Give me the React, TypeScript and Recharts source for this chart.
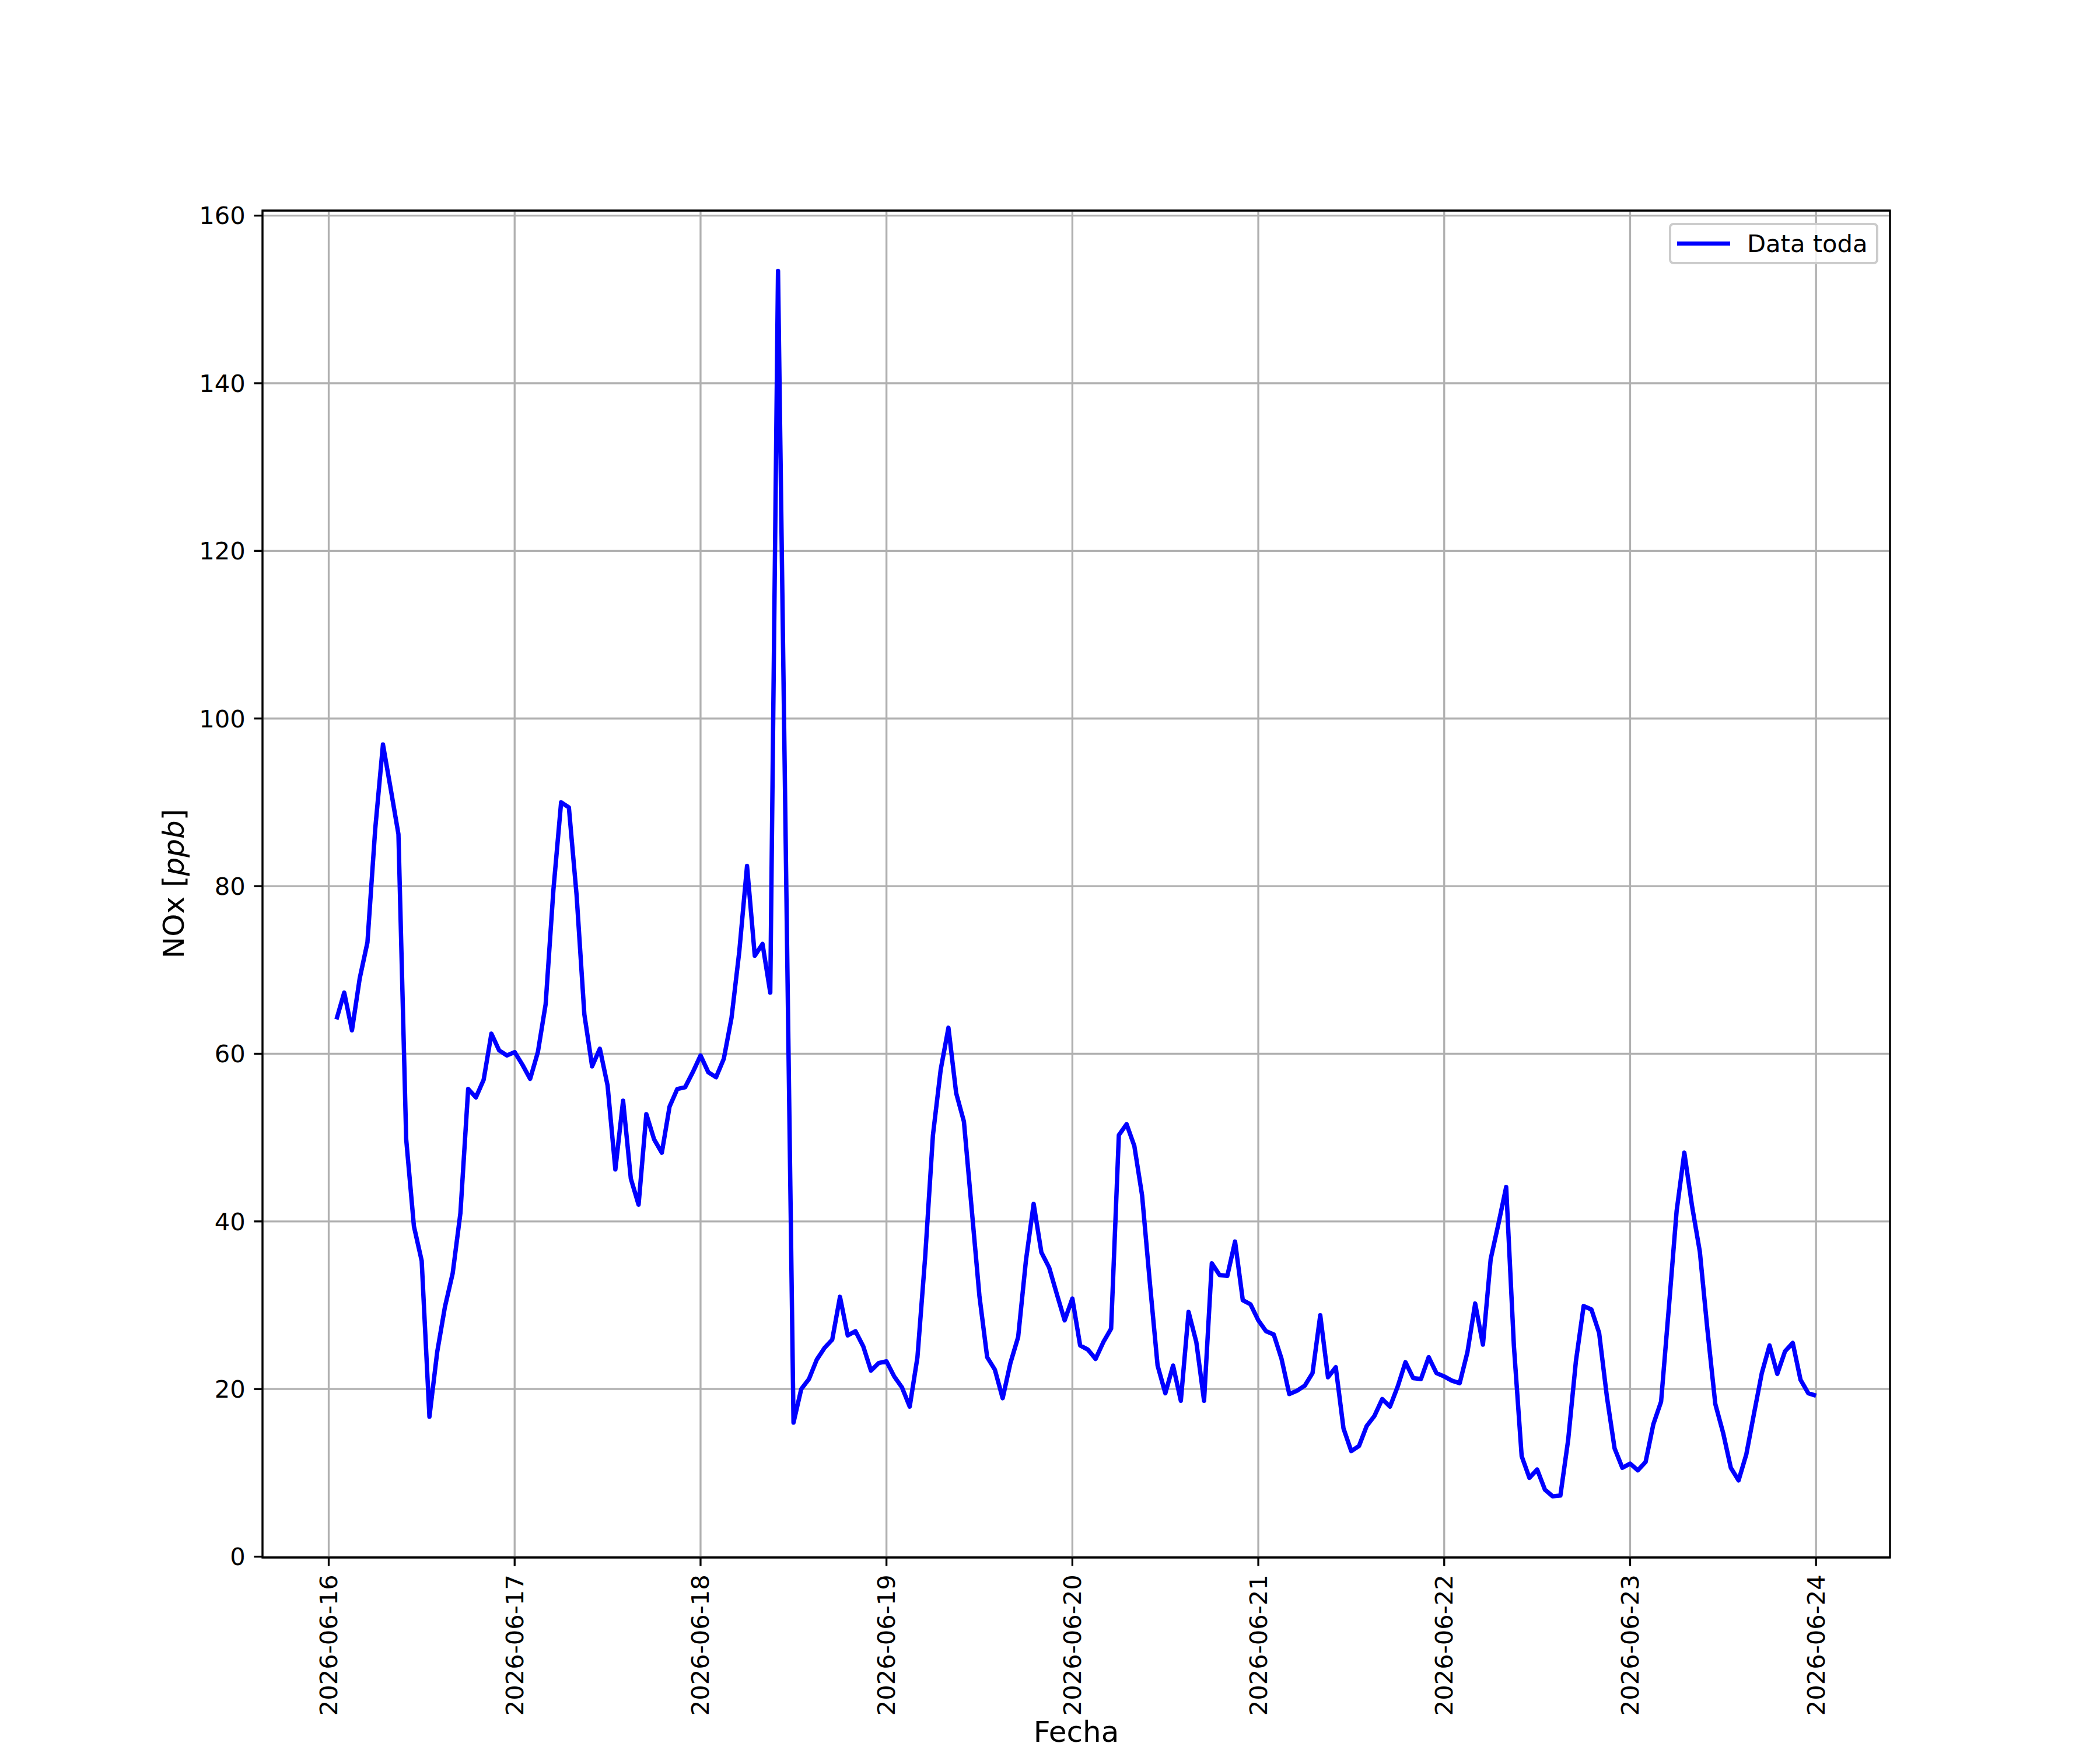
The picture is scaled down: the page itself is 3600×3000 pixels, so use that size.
import {
  CartesianGrid,
  Legend,
  Line,
  LineChart,
  ReferenceArea,
  XAxis,
  YAxis,
} from "recharts";

// Serie horaria de NOx [ppb], una lista por día (01:00 … 24:00)
const fechas = [
  "2026-06-16",
  "2026-06-17",
  "2026-06-18",
  "2026-06-19",
  "2026-06-20",
  "2026-06-21",
  "2026-06-22",
  "2026-06-23",
  "2026-06-24",
];
const nox16 = [64.1, 67.3, 62.8, 69.0, 73.3, 86.8, 96.9, 91.6, 86.2, 49.8, 39.4, 35.3, 16.7, 24.4, 29.8, 33.8, 41.0, 55.8, 54.8, 56.9, 62.4, 60.4, 59.8, 60.2];
const nox17 = [58.7, 57.0, 60.2, 65.9, 79.5, 90.0, 89.4, 78.9, 64.7, 58.5, 60.6, 56.2, 46.2, 54.4, 45.1, 42.0, 52.8, 49.8, 48.2, 53.7, 55.8, 56.0, 57.8, 59.8];
const nox18 = [57.8, 57.2, 59.4, 64.3, 72.2, 82.4, 71.7, 73.1, 67.3, 153.4, 84.7, 16.0, 20.0, 21.2, 23.5, 24.9, 25.9, 31.0, 26.4, 26.9, 25.1, 22.2, 23.1, 23.3];
const nox19 = [21.5, 20.2, 17.9, 23.8, 35.8, 50.3, 58.1, 63.1, 55.3, 51.9, 41.5, 31.1, 23.8, 22.3, 18.9, 23.1, 26.2, 35.3, 42.1, 36.3, 34.5, 31.3, 28.2, 30.8];
const nox20 = [25.2, 24.7, 23.6, 25.6, 27.2, 50.3, 51.6, 49.0, 43.1, 32.7, 22.8, 19.5, 22.8, 18.6, 29.2, 25.6, 18.6, 35.0, 33.6, 33.5, 37.6, 30.6, 30.1, 28.2];
const nox21 = [26.9, 26.5, 23.6, 19.4, 19.8, 20.4, 21.9, 28.8, 21.4, 22.6, 15.3, 12.6, 13.2, 15.6, 16.8, 18.8, 17.9, 20.3, 23.2, 21.3, 21.2, 23.8, 21.9, 21.5];
const nox22 = [21.0, 20.7, 24.4, 30.2, 25.3, 35.5, 39.7, 44.1, 25.1, 12.0, 9.4, 10.4, 8.0, 7.2, 7.3, 13.9, 23.3, 29.9, 29.5, 26.7, 19.1, 12.9, 10.6, 11.1];
const nox23 = [10.3, 11.3, 15.8, 18.5, 29.7, 41.2, 48.2, 41.8, 36.4, 26.9, 18.2, 14.8, 10.6, 9.1, 12.2, 17.1, 21.9, 25.2, 21.8, 24.5, 25.5, 21.1, 19.5, 19.2];
const dias = [nox16, nox17, nox18, nox19, nox20, nox21, nox22, nox23];
const yTicks = [0, 20, 40, 60, 80, 100, 120, 140, 160];

// hora = horas desde 2026-06-16 00:00
const data = dias.flatMap((vals, d) =>
  vals.map((v, h) => ({ hora: d * 24 + h + 1, nox: v })),
);
const xTicks = fechas.map((_, i) => i * 24);

const FONT = "'DejaVu Sans', sans-serif";
const FS = 41.67; // 10pt @ 300 dpi
const FS_LABEL = 50; // 12pt
const LW = 3.33; // 0.8pt

function FechaTick({ x, y, payload }: any) {
  return (
    <text
      x={x}
      y={y}
      transform={`rotate(-90, ${x}, ${y})`}
      textAnchor="end"
      dominantBaseline="central"
      fontSize={FS}
      fontFamily={FONT}
      fill="#000"
    >
      {fechas[Math.round(payload.value / 24)]}
    </text>
  );
}

function FechaLabel() {
  return (
    <text x={1845} y={2986} textAnchor="middle" fontSize={FS_LABEL} fontFamily={FONT} fill="#000">
      Fecha
    </text>
  );
}

function NoxLabel() {
  return (
    <text
      x={298}
      y={1515}
      transform="rotate(-90, 298, 1515)"
      textAnchor="middle"
      dominantBaseline="central"
      fontSize={FS_LABEL}
      fontFamily={FONT}
      fill="#000"
    >
      NOx [<tspan fontStyle="italic">ppb</tspan>]
    </text>
  );
}

function Leyenda() {
  return (
    <div
      style={{
        boxSizing: "border-box",
        width: 359,
        height: 71,
        border: "4px solid #cccccc",
        borderRadius: 8,
        background: "rgba(255,255,255,0.8)",
        display: "flex",
        alignItems: "center",
        paddingLeft: 10,
        fontFamily: FONT,
        fontSize: FS,
        color: "#000",
        lineHeight: 1,
      }}
    >
      <div style={{ width: 91, height: 7.5, background: "#0000ff" }} />
      <span style={{ marginLeft: 29 }}>Data toda</span>
    </div>
  );
}

export default function App() {
  return (
    <div style={{ position: "absolute", left: 0, top: 0, width: 3600, height: 3000, background: "#fff" }}>
      <LineChart
        width={3600}
        height={3000}
        data={data}
        margin={{ top: 361, right: 360, bottom: 230, left: 350 }}
      >
        <CartesianGrid stroke="#b0b0b0" strokeWidth={LW} />
        <XAxis
          dataKey="hora"
          type="number"
          domain={[-8.55, 201.55]}
          allowDataOverflow
          ticks={xTicks}
          interval={0}
          height={100}
          axisLine={false}
          tickSize={14.6}
          tickMargin={14.6}
          tickLine={{ stroke: "#000", strokeWidth: LW }}
          tick={<FechaTick />}
          label={<FechaLabel />}
        />
        <YAxis
          type="number"
          domain={[-0.1, 160.6]}
          allowDataOverflow
          ticks={yTicks}
          interval={0}
          width={100}
          axisLine={false}
          tickSize={14.6}
          tickMargin={14.6}
          tickLine={{ stroke: "#000", strokeWidth: LW }}
          tick={{ fontSize: FS, fill: "#000", fontFamily: FONT }}
          label={<NoxLabel />}
        />
        <Line
          type="linear"
          dataKey="nox"
          name="Data toda"
          stroke="#0000ff"
          strokeWidth={7.5}
          strokeLinejoin="round"
          dot={false}
          activeDot={false}
          isAnimationActive={false}
        />
        <ReferenceArea
          x1={-8.55}
          x2={201.55}
          y1={-0.1}
          y2={160.6}
          fill="none"
          fillOpacity={0}
          stroke="#000"
          strokeWidth={LW}
          ifOverflow="visible"
        />
        <Legend
          layout="horizontal"
          verticalAlign="middle"
          align="center"
          wrapperStyle={{ left: 2861, top: 382, width: 359, height: 71 }}
          content={() => <Leyenda />}
        />
      </LineChart>
    </div>
  );
}
